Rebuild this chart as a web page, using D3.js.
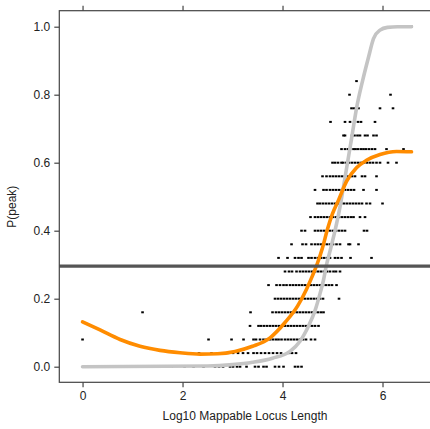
<!DOCTYPE html>
<html>
<head>
<meta charset="utf-8">
<script src="https://cdn.jsdelivr.net/npm/d3@7/dist/d3.min.js"></script>
<style>
  html, body { margin: 0; padding: 0; background: #fff; }
  svg { display: block; font-family: "Liberation Sans", Arial, sans-serif; }
</style>
</head>
<body>
<svg id="chart" width="430" height="429"></svg>
<script>
// Observed peak fraction per locus (each row is one fraction k/25)
const peakLevels = [0.00, 0.04, 0.08, 0.12, 0.16, 0.20, 0.24, 0.28, 0.32, 0.36, 0.40,
                    0.44, 0.48, 0.52, 0.56, 0.60, 0.64, 0.68, 0.72, 0.76, 0.80, 0.84, 1.00];

// Log10 mappable locus length of the loci in each row above
const locusLengths = [
  [1.78, 2.04, 2.22, 2.42, 2.65, 2.73, 2.81, 2.95, 3.01, 3.09, 3.15, 3.28, 3.45, 3.52, 3.62, 3.68, 3.85, 3.93, 4.02, 4.25, 4.31, 4.38],
  [2.33, 2.58, 2.71, 2.81, 2.91, 3.01, 3.11, 3.21, 3.31, 3.42, 3.49, 3.57, 3.65, 3.73, 3.81, 3.89, 3.97, 4.13, 4.19, 4.27],
  [0.00, 2.52, 2.98, 3.22, 3.42, 3.47, 3.55, 3.62, 3.68, 3.75, 3.81, 3.87, 3.92, 3.98, 4.05, 4.11, 4.17, 4.23, 4.29, 4.35, 4.41, 4.47, 4.57, 4.65],
  [3.35, 3.52, 3.57, 3.63, 3.69, 3.75, 3.81, 3.87, 3.93, 3.99, 4.05, 4.11, 4.17, 4.23, 4.29, 4.35, 4.41, 4.47, 4.53, 4.59, 4.65, 4.72],
  [1.20, 3.36, 3.80, 3.87, 3.93, 3.99, 4.05, 4.11, 4.17, 4.23, 4.29, 4.35, 4.41, 4.47, 4.53, 4.59, 4.65, 4.71, 4.77, 4.82],
  [3.85, 3.91, 3.97, 4.03, 4.09, 4.15, 4.21, 4.27, 4.33, 4.39, 4.45, 4.51, 4.57, 4.63, 4.69, 4.75, 4.81, 5.13],
  [3.72, 3.88, 3.95, 4.02, 4.08, 4.15, 4.21, 4.27, 4.33, 4.39, 4.45, 4.51, 4.57, 4.63, 4.69, 4.75, 4.81, 4.87, 4.93, 4.99, 5.08],
  [4.05, 4.13, 4.19, 4.28, 4.35, 4.41, 4.47, 4.53, 4.59, 4.65, 4.71, 4.77, 4.83, 4.89, 4.95, 5.02, 5.07, 5.15],
  [3.92, 4.10, 4.25, 4.32, 4.38, 4.52, 4.58, 4.65, 4.71, 4.77, 4.83, 4.89, 4.95, 5.05, 5.11, 5.18, 5.36, 5.78],
  [4.18, 4.40, 4.47, 4.58, 4.65, 4.71, 4.77, 4.83, 4.89, 4.95, 5.01, 5.08, 5.15, 5.32, 5.35, 5.52],
  [4.38, 4.45, 4.65, 4.71, 4.77, 4.83, 4.89, 4.95, 5.01, 5.07, 5.13, 5.19, 5.25, 5.63, 5.69],
  [4.56, 4.65, 4.71, 4.77, 4.83, 4.89, 4.95, 5.01, 5.07, 5.13, 5.19, 5.25, 5.31, 5.37, 5.42, 5.55, 5.65],
  [4.70, 4.75, 4.81, 4.87, 4.93, 4.99, 5.05, 5.11, 5.17, 5.23, 5.29, 5.35, 5.41, 5.47, 5.53, 5.59, 5.68, 5.75, 6.00],
  [4.65, 4.82, 4.88, 4.95, 5.01, 5.07, 5.13, 5.19, 5.25, 5.31, 5.37, 5.43, 5.62, 5.88],
  [4.80, 4.88, 4.95, 5.01, 5.07, 5.13, 5.19, 5.25, 5.31, 5.39, 5.45, 5.59, 5.65, 5.88],
  [5.00, 5.05, 5.11, 5.18, 5.21, 5.27, 5.33, 5.39, 5.45, 5.51, 5.57, 5.63, 5.69, 5.75, 5.81, 5.88, 5.95, 6.11, 6.28],
  [5.18, 5.25, 5.31, 5.35, 5.42, 5.46, 5.51, 5.57, 5.62, 5.67, 5.73, 5.79, 5.85, 6.08, 6.42],
  [5.22, 5.25, 5.39, 5.44, 5.50, 5.55, 5.65, 5.70, 5.82, 5.88],
  [4.96, 5.25, 5.35, 5.51, 5.57, 5.85],
  [5.38, 5.43, 5.52, 5.95, 6.21],
  [5.34, 6.16],
  [5.48],
  [6.58]
];

// Fitted expectation curve (grey)
const expectedX = [0, 2.5, 3.0, 3.4, 3.8, 4.15, 4.35, 4.52, 4.65, 4.75, 4.82, 4.88, 4.95, 5.05,
                   5.15, 5.22, 5.3, 5.38, 5.48, 5.6, 5.72, 5.82, 5.95, 6.1, 6.3, 6.58];
const expectedY = [0, 0.002, 0.006, 0.013, 0.025, 0.045, 0.075, 0.12, 0.165, 0.215, 0.255, 0.3, 0.34, 0.4,
                   0.47, 0.53, 0.6, 0.67, 0.76, 0.84, 0.91, 0.965, 0.99, 0.998, 1.0, 1.0];

// Smoothed observed trend (orange)
const trendX = [0, 0.35, 0.75, 1.15, 1.55, 1.95, 2.35, 2.7, 3.05, 3.4, 3.75, 4.05, 4.3, 4.48,
                4.6, 4.7, 4.8, 4.9, 5.0, 5.12, 5.28, 5.48, 5.68, 5.95, 6.28, 6.58];
const trendY = [0.132, 0.108, 0.08, 0.06, 0.048, 0.041, 0.037, 0.038, 0.045, 0.06, 0.085, 0.13, 0.178, 0.228,
                0.268, 0.305, 0.35, 0.405, 0.45, 0.49, 0.545, 0.585, 0.607, 0.624, 0.633, 0.632];

// Reference threshold
const thresholdP = 0.296;

const xTicks = [0, 2, 4, 6];
const yTicks = [0, 0.2, 0.4, 0.6, 0.8, 1.0];

const svg = d3.select("#chart");

const x = d3.scaleLinear().domain([-0.465, 7.0]).range([59.3, 432.5]);
const y = d3.scaleLinear().domain([0, 1]).range([366.7, 26.7]);
const yBottom = 382.3, yTop = 10.7;

// scatter of loci
const pts = [];
peakLevels.forEach((p, i) => locusLengths[i].forEach(v => pts.push([v, p])));
svg.append("g").selectAll("rect").data(pts).join("rect")
  .attr("x", d => x(d[0]) - 1.3)
  .attr("y", d => y(d[1]) - 1)
  .attr("width", 2.6).attr("height", 2)
  .attr("fill", "#000");

const line = d3.line().curve(d3.curveMonotoneX).x(d => x(d[0])).y(d => y(d[1]));

svg.append("path")
  .attr("d", line(expectedX.map((v, i) => [v, expectedY[i]])))
  .attr("fill", "none").attr("stroke", "#c4c4c4").attr("stroke-width", 3.6)
  .attr("stroke-linecap", "round");

svg.append("path")
  .attr("d", line(trendX.map((v, i) => [v, trendY[i]])))
  .attr("fill", "none").attr("stroke", "#ff8c00").attr("stroke-width", 3.6)
  .attr("stroke-linecap", "round");

svg.append("line")
  .attr("x1", x.range()[0]).attr("x2", x.range()[1])
  .attr("y1", y(thresholdP)).attr("y2", y(thresholdP))
  .attr("stroke", "#555").attr("stroke-width", 3.2);

// frame
svg.append("rect")
  .attr("x", x.range()[0]).attr("y", yTop)
  .attr("width", x.range()[1] - x.range()[0]).attr("height", yBottom - yTop)
  .attr("fill", "none").attr("stroke", "#444").attr("stroke-width", 1.2);

// axes
const bottomAxis = d3.axisBottom(x).tickValues(xTicks).tickFormat(d3.format("d"))
  .tickSize(5).tickPadding(4);
const topAxis = d3.axisTop(x).tickValues(xTicks).tickFormat("").tickSize(5);
const leftAxis = d3.axisLeft(y).tickValues(yTicks).tickFormat(d3.format(".1f"))
  .tickSize(5).tickPadding(4);

function styleAxis(g) {
  g.select(".domain").remove();
  g.selectAll(".tick line").attr("stroke", "#444").attr("stroke-width", 1.2);
  g.selectAll(".tick text").attr("fill", "#222").attr("font-size", 12)
    .attr("font-family", "Liberation Sans, Arial, sans-serif");
}

svg.append("g").attr("transform", `translate(0,${yBottom})`).call(bottomAxis).call(styleAxis);
svg.append("g").attr("transform", `translate(0,${yTop})`).call(topAxis).call(styleAxis);
svg.append("g").attr("transform", `translate(${x.range()[0]},0)`).call(leftAxis).call(styleAxis);

svg.append("text")
  .attr("x", 245).attr("y", 420)
  .attr("text-anchor", "middle").attr("font-size", 12).attr("fill", "#222")
  .text("Log10 Mappable Locus Length");

svg.append("text")
  .attr("transform", `translate(16,${(y(0) + y(1)) / 2 + 10}) rotate(-90)`)
  .attr("text-anchor", "middle").attr("font-size", 12).attr("fill", "#222")
  .text("P(peak)");
</script>
</body>
</html>
